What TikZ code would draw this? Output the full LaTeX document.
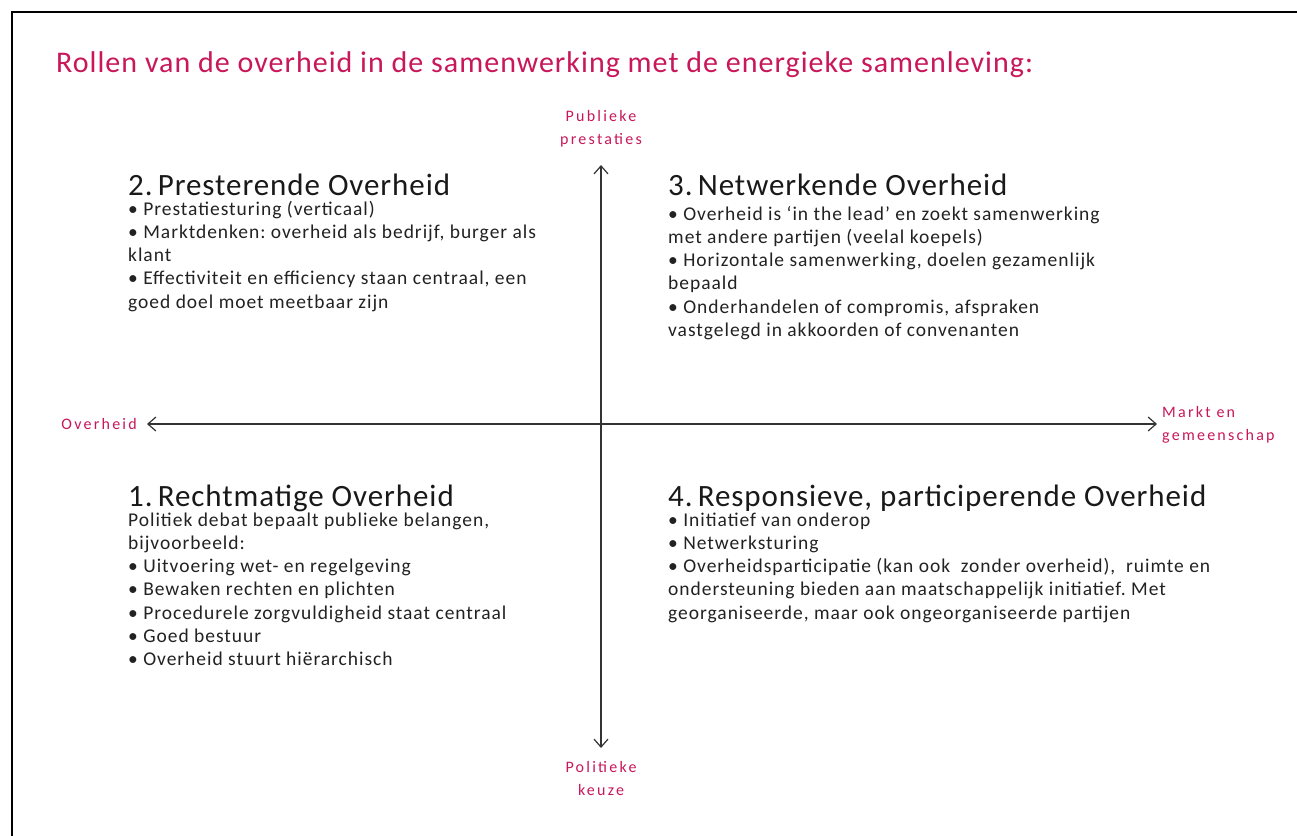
\documentclass[tikz,border=0pt]{standalone}
\usepackage{fontspec}
\setmainfont{Carlito}
\newfontfamily\labfont[LetterSpace=14]{Carlito}
\newfontfamily\bodyfont[LetterSpace=5]{Carlito}
\newfontfamily\headfont[LetterSpace=3]{Carlito}
\newfontfamily\titlefont[LetterSpace=3.4]{Carlito}
\usetikzlibrary{arrows.meta}
\definecolor{crim}{HTML}{C8175A}
\definecolor{txt}{HTML}{222222}
\newcommand{\qlines}[1]{\begin{tabular}[t]{@{}l@{}}#1\end{tabular}}
\frenchspacing
\begin{document}
\begin{tikzpicture}[x=1pt,y=-1pt,
  lab/.style={text=crim,font=\labfont\fontsize{16}{23}\selectfont,inner sep=0pt},
  head/.style={anchor=base west,inner sep=0pt,text=black!90,font=\headfont\fontsize{31}{36}\selectfont},
  body/.style={anchor=base west,inner sep=0pt,text=txt,font=\bodyfont\fontsize{19.5}{23.3}\selectfont},
  axis/.style={line width=1.2pt,draw=black!80,{Straight Barb[length=8pt,width=14pt]}-{Straight Barb[length=8pt,width=14pt]}}]
\useasboundingbox (0,0) rectangle (1297,835);
\fill[white] (0,0) rectangle (1297,835);
\draw[line width=2pt] (1310,12) -- (12,12) -- (12,850);

\node[anchor=base west,inner sep=0pt,text=crim,font=\titlefont\fontsize{30}{36}\selectfont] (title) at (56,72)
  {Rollen van de overheid in de samenwerking met de energieke samenleving:};

% axis labels
\node[lab,align=center] (pub) at (601,128.5) {Publieke\\prestaties};
\node[lab,align=center] (pol) at (601,778) {Politieke\\keuze};
\node[lab,anchor=east] (ovh) at (137,424) {Overheid};
\node[lab,align=left,anchor=west] (markt) at (1162,425) {Markt en\\gemeenschap};

% axes
\coordinate (L) at (147,424);
\coordinate (R) at (1157,424);
\coordinate (T) at (601,165);
\coordinate (B) at (601,748);
\draw[axis] (L) -- (R);
\draw[axis] (T) -- (B);

% quadrant 2
\node[head] (h2) at (128,195) {2.\,Presterende Overheid};
\node[body] (b2) at (128,215) {\qlines{• Prestatiesturing (verticaal)\\
• Marktdenken: overheid als bedrijf, burger als\\
klant\\
• Effectiviteit en efficiency staan centraal, een\\
goed doel moet meetbaar zijn}};

% quadrant 3
\node[head] (h3) at (668,195) {3.\,Netwerkende Overheid};
\node[body] (b3) at (668,220) {\qlines{• Overheid is ‘in the lead’ en zoekt samenwerking\\
met andere partijen (veelal koepels)\\
• Horizontale samenwerking, doelen gezamenlijk\\
bepaald\\
• Onderhandelen of compromis, afspraken\\
vastgelegd in akkoorden of convenanten}};

% quadrant 1
\node[head] (h1) at (128,506) {1.\,Rechtmatige Overheid};
\node[body] (b1) at (128,526) {\qlines{Politiek debat bepaalt publieke belangen,\\
bijvoorbeeld:\\
• Uitvoering wet- en regelgeving\\
• Bewaken rechten en plichten\\
• Procedurele zorgvuldigheid staat centraal\\
• Goed bestuur\\
• Overheid stuurt hiërarchisch}};

% quadrant 4
\node[head] (h4) at (668,506) {4.\,Responsieve, participerende Overheid};
\node[body] (b4) at (668,526) {\qlines{• Initiatief van onderop\\
• Netwerksturing\\
• Overheidsparticipatie (kan ook\ \ zonder overheid),\ \ ruimte en\\
ondersteuning bieden aan maatschappelijk initiatief. Met\\
georganiseerde, maar ook ongeorganiseerde partijen}};
\end{tikzpicture}
\end{document}
